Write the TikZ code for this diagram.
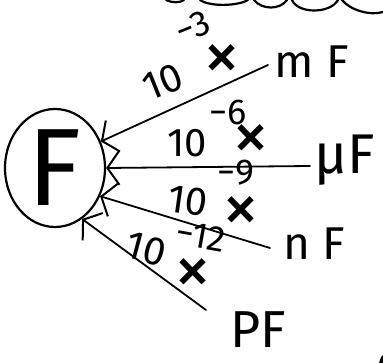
\documentclass[tikz,border=0pt]{standalone}
\usepackage{fontspec}
\setmainfont{Fira Sans}
\usetikzlibrary{arrows.meta,shapes.geometric}
\begin{document}
\begin{tikzpicture}[x=1pt,y=-1pt,
  pen/.style={line width=2.2pt,line cap=round,line join=round},
  conn/.style={pen,line width=1.8pt,-{Straight Barb[length=12pt,width=34pt,line width=2pt]}},
  unit/.style={inner sep=0pt,font=\fontsize{46}{50}\selectfont},
  ten/.style={inner sep=0pt,font=\fontsize{40}{42}\selectfont},
  expo/.style={inner sep=0pt,font=\fontsize{36}{38}\selectfont},
  times/.style={inner sep=0pt,font=\fontsize{74}{76}\selectfont}]
\useasboundingbox (0,0) rectangle (383,363);
% circle with F
\node[ellipse,draw,pen,minimum width=100pt,minimum height=118pt,inner sep=0pt,
      font=\fontsize{110}{110}\selectfont] (F) at (55,168) {F};
% unit texts
\node[unit] (mF) at (312,62) {m F};
\node[unit,font=\fontsize{56}{60}\selectfont] (uF) at (345,160) {μF};
\node[unit] (nF) at (314,244) {n F};
\node[unit,font=\fontsize{52}{56}\selectfont] (pF) at (258,330) {PF};
% connector start points
\coordinate (smF) at (268,65);
\coordinate (suF) at (310,166);
\coordinate (snF) at (270,248);
\coordinate (spF) at (206,310);
\draw[conn] (smF) -- (F.30);
\draw[conn] (suF) -- (F.0);
\draw[conn] (snF) -- (F.-32);
\draw[conn] (spF) -- (F.-62);
% label 1
\node[ten,rotate=22] (t1) at (163,82) {10};
\node[expo,rotate=22] (e1) at (193,27) {−3};
\node[times] (x1) at (222,63) {×};
% label 2
\node[ten] (t2) at (187,143) {10};
\node[expo] (e2) at (228,112) {−6};
\node[times] (x2) at (251,143) {×};
% label 3
\node[ten,rotate=-8] (t3) at (188,201) {10};
\node[expo] (e3) at (236,173) {−9};
\node[times] (x3) at (241,215) {×};
% label 4
\node[ten,rotate=-15] (t4) at (146,249) {10};
\node[expo,rotate=-10] (e4) at (201,236) {−12};
\node[times] (x4) at (193,277) {×};
% cut-off scribbles at top
\draw[pen] (166,0) .. controls (172,3) and (180,3) .. (184,0);
\draw[pen] (200,0) .. controls (210,7) and (238,6) .. (248,0);
\draw[pen] (254,0) .. controls (262,10) and (280,10) .. (287,0);
\draw[pen] (292,0) .. controls (298,14) and (330,14) .. (338,0);
\draw[pen] (342,0) .. controls (350,10) and (370,16) .. (383,12);
% tiny mark bottom right
\fill (379,363) -- (381,357) -- (383,355) -- (383,363) -- cycle;
\end{tikzpicture}
\end{document}
